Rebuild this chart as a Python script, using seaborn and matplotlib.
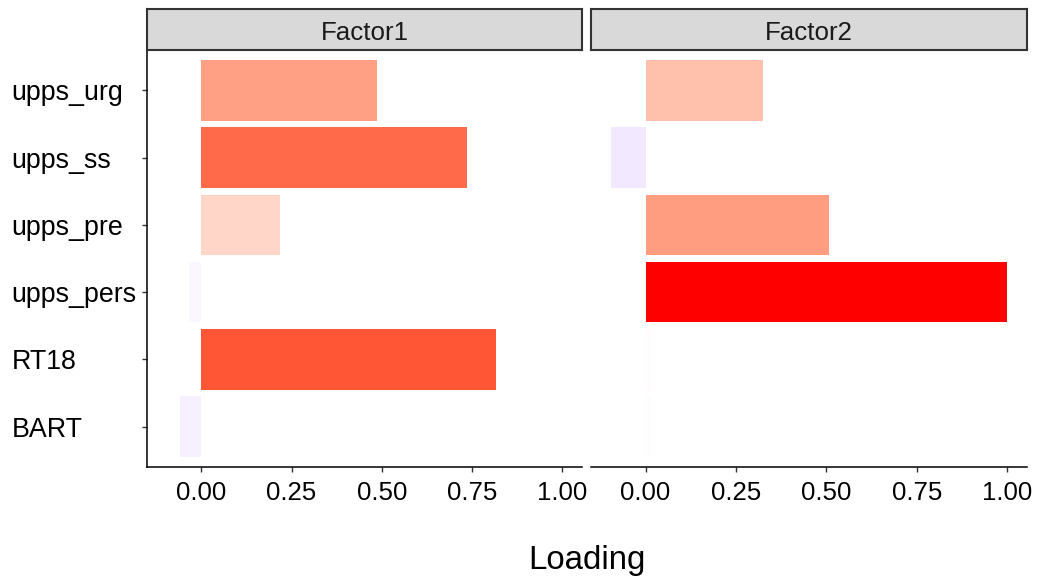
import numpy as np
import pandas as pd
import matplotlib
matplotlib.use("Agg")
import matplotlib.pyplot as plt
import seaborn as sns

# Factor loadings per variable
variables = ["upps_urg", "upps_ss", "upps_pre", "upps_pers", "RT18", "BART"]
factor1 = [0.488, 0.735, 0.217, -0.034, 0.817, -0.059]
factor2 = [0.324, -0.096, 0.506, 1.000, 0.016, 0.014]
factors = ["Factor1", "Factor2"]
x_ticks = [0.00, 0.25, 0.50, 0.75, 1.00]
x_tick_labels = ["0.00", "0.25", "0.50", "0.75", "1.00"]

df = pd.DataFrame({
    "variable": variables * 2,
    "factor": [factors[0]] * len(variables) + [factors[1]] * len(variables),
    "loading": factor1 + factor2,
})


# --- diverging blue-white-red fill, interpolated in CIE Lab space ---
def _srgb_to_linear(c):
    c = np.asarray(c, float)
    return np.where(c <= 0.04045, c / 12.92, ((c + 0.055) / 1.055) ** 2.4)


def _linear_to_srgb(c):
    c = np.clip(c, 0, 1)
    return np.where(c <= 0.0031308, 12.92 * c, 1.055 * c ** (1 / 2.4) - 0.055)


_M = np.array([[0.4124564, 0.3575761, 0.1804375],
               [0.2126729, 0.7151522, 0.0721750],
               [0.0193339, 0.1191920, 0.9503041]])
_WHITE = np.array([0.95047, 1.0, 1.08883])


def rgb_to_lab(rgb):
    xyz = _M @ _srgb_to_linear(rgb) / _WHITE
    f = np.where(xyz > 0.008856, np.cbrt(xyz), 7.787 * xyz + 16 / 116)
    return np.array([116 * f[1] - 16, 500 * (f[0] - f[1]), 200 * (f[1] - f[2])])


def lab_to_rgb(lab):
    L, a, b = lab
    fy = (L + 16) / 116
    fx = fy + a / 500
    fz = fy - b / 200
    f = np.array([fx, fy, fz])
    xyz = np.where(f ** 3 > 0.008856, f ** 3, (f - 16 / 116) / 7.787) * _WHITE
    lin = np.linalg.solve(_M, xyz)
    return tuple(np.clip(_linear_to_srgb(lin), 0, 1))


LAB_LOW = rgb_to_lab([0, 0, 1])
LAB_MID = rgb_to_lab([1, 1, 1])
LAB_HIGH = rgb_to_lab([1, 0, 0])
vmax = df["loading"].abs().max()


def fill_for(v):
    t = v / vmax
    end = LAB_HIGH if t >= 0 else LAB_LOW
    t = abs(t)
    return lab_to_rgb(LAB_MID + (end - LAB_MID) * t)


df["key"] = df["factor"] + ":" + df["variable"]
palette = {k: fill_for(v) for k, v in zip(df["key"], df["loading"])}

# --- figure ---
plt.rcParams["font.family"] = ["Liberation Sans", "DejaVu Sans"]
W, H = 1041, 577
fig = plt.figure(figsize=(W / 100, H / 100), dpi=100)

panel_px = [(147, 582), (591, 1027)]
top_px, bottom_px = 50, 467
strip_top_px = 9

lo = df["loading"].min()
hi = df["loading"].max()
span = hi - lo
xlim = (min(lo, 0) - 0.05 * span, hi + 0.05 * span)

tick_font = 18.6
ylab_font = 19.3
for i, (fac, (l, r)) in enumerate(zip(factors, panel_px)):
    ax = fig.add_axes([l / W, 1 - bottom_px / H, (r - l) / W, (bottom_px - top_px) / H])
    sub = df[df["factor"] == fac]
    sns.barplot(data=sub, x="loading", y="variable", hue="key", palette=palette,
                order=variables, dodge=False, legend=False, width=0.9,
                saturation=1, errorbar=None, linewidth=0, orient="h", ax=ax)
    ax.set_xlim(*xlim)
    ax.set_ylim(len(variables) - 0.4, -0.6)
    ax.set_xlabel("")
    ax.set_ylabel("")
    ax.set_facecolor("white")
    for s in ["top", "right"]:
        ax.spines[s].set_visible(False)
    ax.spines["bottom"].set_linewidth(1.1)
    ax.spines["bottom"].set_color("black")
    ax.set_xticks(x_ticks)
    ax.set_xticklabels(x_tick_labels)
    ax.tick_params(axis="x", length=3.5, width=1.0, pad=6.5, labelsize=tick_font,
                   labelcolor="black", color="#333333")
    if i == 0:
        ax.spines["left"].set_linewidth(1.1)
        ax.spines["left"].set_color("black")
        ax.tick_params(axis="y", length=3.5, width=1.0, labelsize=ylab_font,
                       labelcolor="black", color="#333333", pad=94.0)
        for lab in ax.get_yticklabels():
            lab.set_horizontalalignment("left")
    else:
        ax.spines["left"].set_visible(False)
        ax.tick_params(axis="y", left=False, labelleft=False)

    # facet strip
    sax = fig.add_axes([l / W, 1 - top_px / H, (r - l) / W, (top_px - strip_top_px) / H])
    sax.set_facecolor("#D9D9D9")
    sax.set_xticks([])
    sax.set_yticks([])
    for s in sax.spines.values():
        s.set_color("#333333")
        s.set_linewidth(1.5)
    sax.text(0.5, 0.25, fac, ha="center", va="baseline", fontsize=tick_font,
             color="#1A1A1A", transform=sax.transAxes)

fig.text((147 + 1027) / 2 / W, (H - 569) / H, "Loading", ha="center", va="baseline",
         fontsize=23.8, color="black")

fig.savefig("out.png", dpi=100, facecolor="white")
